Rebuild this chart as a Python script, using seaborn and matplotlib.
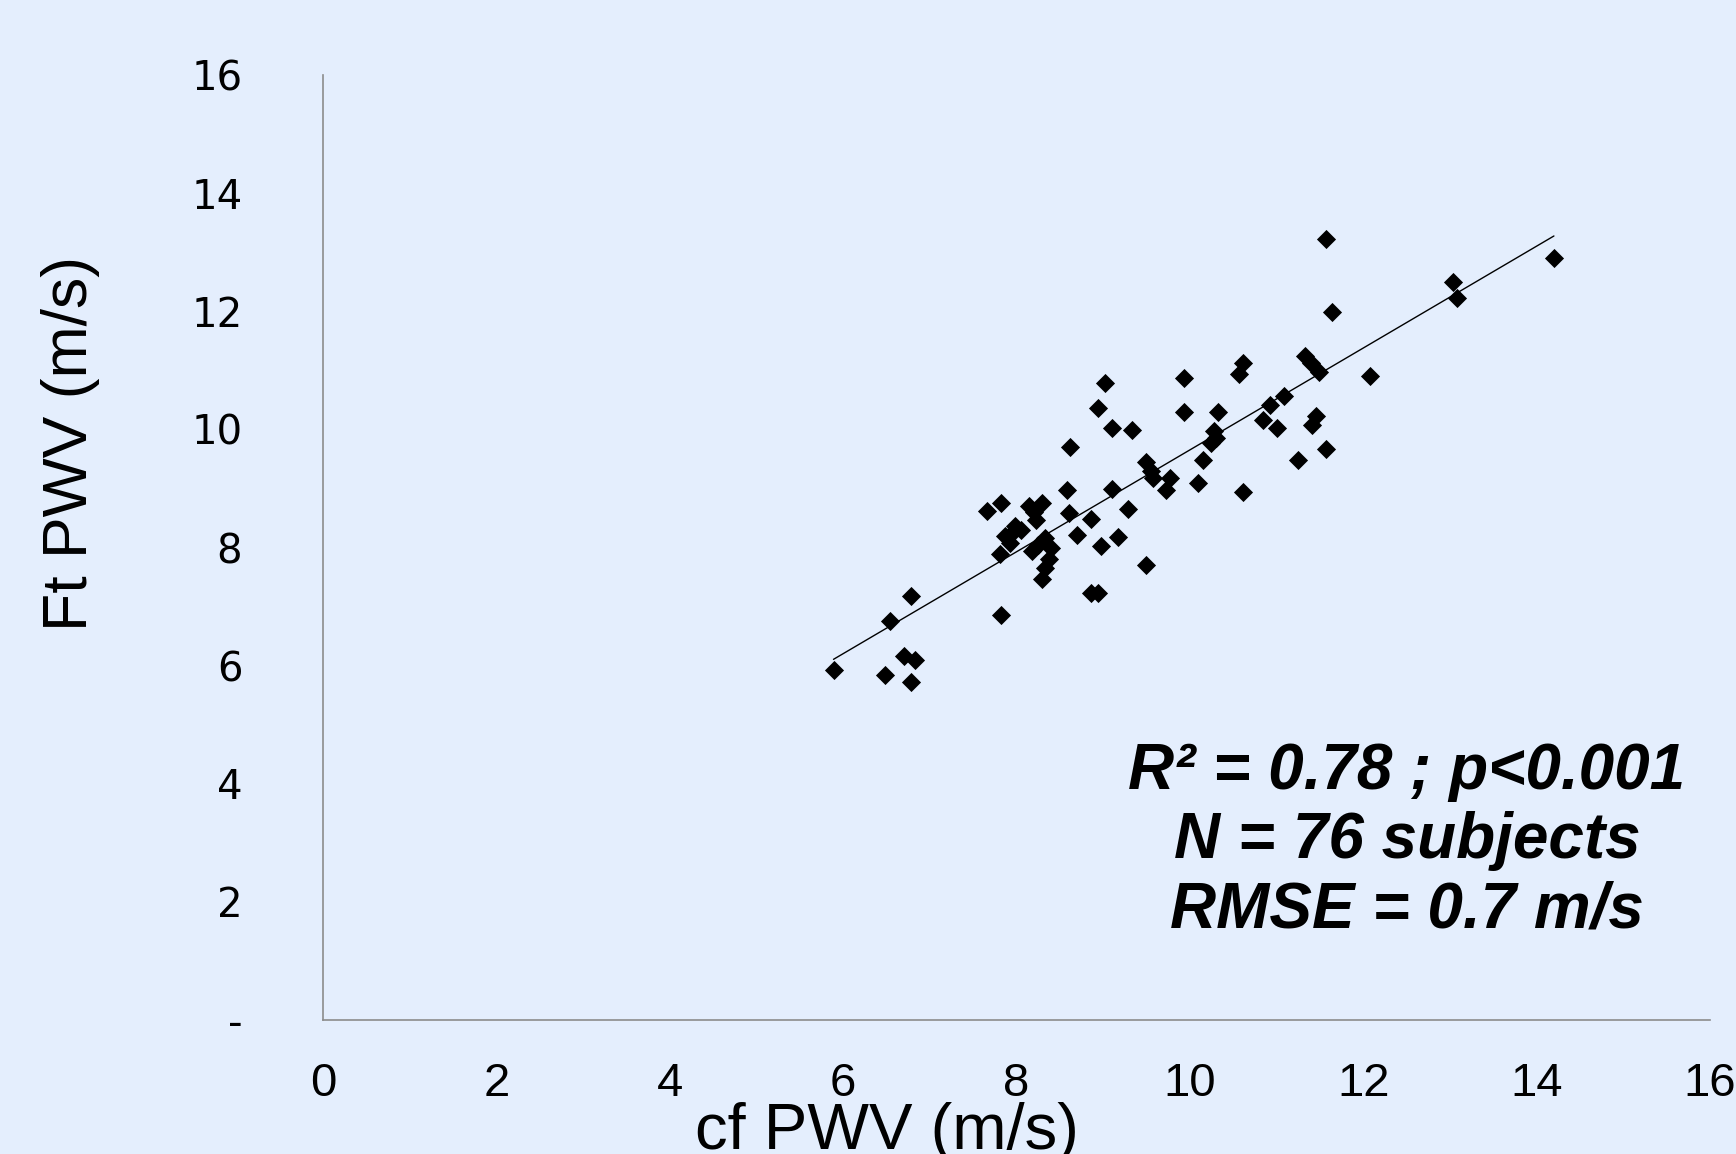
import matplotlib
matplotlib.use("Agg")
import matplotlib.pyplot as plt
import seaborn as sns
import numpy as np
import pandas as pd
from matplotlib import font_manager

cf_pwv = [5.89, 6.54, 6.78, 6.48, 6.70, 6.83, 6.78, 7.82, 7.66, 7.82, 8.14, 8.30,
          8.22, 8.58, 8.61, 7.98, 7.87, 7.93, 7.81, 8.33, 8.18, 8.38, 8.33, 8.30,
          8.70, 8.86, 9.10, 9.29, 9.17, 8.97, 9.50, 8.86, 8.94, 9.50, 9.57, 9.77,
          9.73, 10.09, 9.02, 8.94, 9.10, 9.33, 8.62, 9.93, 9.93, 11.57, 14.20, 13.04,
          13.08, 11.64, 12.08, 11.33, 11.40, 11.49, 10.61, 10.57, 11.09, 10.93, 10.33,
          10.85, 11.01, 11.45, 11.41, 11.57, 11.25, 10.28, 10.25, 10.15, 10.61,
          8.05, 8.25, 8.40, 7.95, 8.20, 10.30, 9.55]
ft_pwv = [5.92, 6.76, 7.18, 5.84, 6.16, 6.10, 5.73, 6.85, 8.62, 8.76, 8.71, 8.76,
          8.47, 8.98, 8.58, 8.37, 8.19, 8.08, 7.89, 8.16, 7.94, 7.81, 7.66, 7.46,
          8.22, 8.49, 8.99, 8.66, 8.18, 8.02, 7.71, 7.23, 7.23, 9.44, 9.18, 9.18,
          8.98, 9.10, 10.79, 10.36, 10.03, 9.99, 9.71, 10.87, 10.30, 13.22, 12.91, 12.50,
          12.22, 11.99, 10.90, 11.25, 11.13, 10.97, 11.13, 10.93, 10.56, 10.42, 10.29,
          10.16, 10.03, 10.23, 10.07, 9.66, 9.48, 9.97, 9.77, 9.48, 8.94,
          8.30, 8.05, 8.00, 8.25, 8.60, 9.85, 9.30]

x_ticks = [0, 2, 4, 6, 8, 10, 12, 14, 16]
y_ticks = [0, 2, 4, 6, 8, 10, 12, 14, 16]
y_tick_labels = ["-", "2", "4", "6", "8", "10", "12", "14", "16"]
x_label = "cf PWV (m/s)"
y_label = "Ft PWV (m/s)"
annotation = "R² = 0.78 ; p<0.001\nN = 76 subjects\nRMSE = 0.7 m/s"

bg = "#E4EEFD"
sns.set_style("white")
plt.rcParams["font.family"] = ["Liberation Sans", "DejaVu Sans"]
plt.rcParams["text.color"] = "black"
plt.rcParams["axes.labelcolor"] = "black"
plt.rcParams["xtick.color"] = "black"
plt.rcParams["ytick.color"] = "black"

installed = {f.name for f in font_manager.fontManager.ttflist}
narrow = ["Liberation Sans Narrow", "Liberation Sans"] if "Liberation Sans Narrow" in installed else ["Liberation Sans"]

df = pd.DataFrame({"cf": cf_pwv, "ft": ft_pwv})

fig = plt.figure(figsize=(17.36, 11.54), dpi=100, facecolor=bg)
ax = fig.add_axes([0.186, 0.1161, 0.799, 0.8189])
ax.set_facecolor(bg)

sns.regplot(data=df, x="cf", y="ft", scatter=False, ci=None, truncate=True,
            line_kws={"color": "black", "linewidth": 1.0}, ax=ax)
sns.scatterplot(data=df, x="cf", y="ft", marker="D", s=95, color="black",
                linewidth=0, ax=ax, zorder=3)

ax.set_xlim(0, 16)
ax.set_ylim(0, 16)
ax.set_xticks(x_ticks)
ax.set_xticklabels([str(t) for t in x_ticks], family=narrow, fontsize=34)
ax.set_yticks(y_ticks)
ax.set_yticklabels(y_tick_labels, family=["DejaVu Sans"], fontsize=29)
ax.tick_params(axis="both", length=0)
ax.tick_params(axis="x", pad=30)
ax.tick_params(axis="y", pad=58)

for s in ["top", "right"]:
    ax.spines[s].set_visible(False)
for s in ["left", "bottom"]:
    ax.spines[s].set_color("#8c8c8c")
    ax.spines[s].set_linewidth(1.2)

ax.set_xlabel(x_label, family=narrow, fontsize=47)
ax.xaxis.set_label_coords(0.4066, -0.087)
ax.set_ylabel(y_label, family=narrow, fontsize=45)
ax.yaxis.set_label_coords(-0.161, 0.61)

ax.text(0.7815, 0.189, annotation, transform=ax.transAxes, ha="center", va="center",
        fontsize=46, fontweight="bold", fontstyle="italic", linespacing=1.2)

fig.savefig("out.png", dpi=100, facecolor=bg)
